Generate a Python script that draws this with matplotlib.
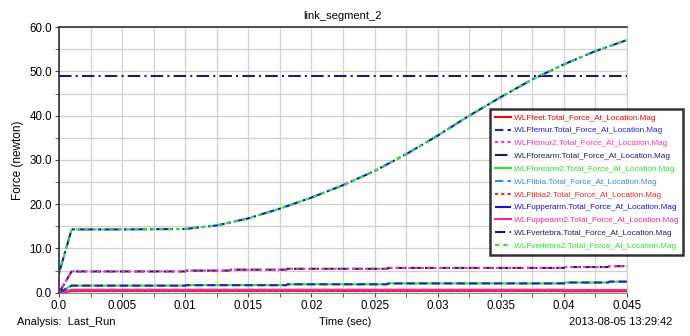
import numpy as np
import matplotlib
matplotlib.use("Agg")
from matplotlib import pyplot as plt

plt.rcParams['font.family'] = ['Liberation Sans', 'DejaVu Sans']

# time samples (sec)
t_big = [0.0, 0.001, 0.005, 0.01, 0.0125, 0.015, 0.0175, 0.02, 0.0225, 0.025,
         0.0275, 0.03, 0.0325, 0.035, 0.0375, 0.04, 0.0425, 0.045]
upperarm = [4.4, 14.3, 14.3, 14.4, 15.2, 16.8, 19.0, 21.5, 24.3, 27.5,
            31.3, 35.5, 40.0, 44.2, 48.2, 51.6, 54.6, 57.1]

t_steps = [0.0, 0.001, 0.01, 0.0101, 0.0135, 0.0136, 0.018, 0.0181, 0.026, 0.0261,
           0.04, 0.0401, 0.0435, 0.0436, 0.045]
vertebra = [0.0, 4.8, 4.8, 5.0, 5.0, 5.2, 5.2, 5.4, 5.4, 5.6, 5.6, 5.8, 5.8, 6.0, 6.0]
forearm2 = [0.0, 1.6, 1.6, 1.7, 1.7, 1.7, 1.7, 1.9, 1.9, 2.1, 2.1, 2.3, 2.3, 2.5, 2.5]
feet = [0.0, 0.4, 0.4, 0.4, 0.4, 0.4, 0.4, 0.4, 0.4, 0.4, 0.4, 0.35, 0.35, 0.35, 0.35]
tibia = [0.0, 0.65, 0.65, 0.65, 0.65, 0.65, 0.65, 0.65, 0.65, 0.65, 0.65, 0.6, 0.6, 0.6, 0.6]
forearm = [48.9] * len(t_steps)

names = ['.WLFfeet.Total_Force_At_Location.Mag',
         '.WLFfemur.Total_Force_At_Location.Mag',
         '.WLFfemur2.Total_Force_At_Location.Mag',
         '.WLFforearm.Total_Force_At_Location.Mag',
         '.WLFforearm2.Total_Force_At_Location.Mag',
         '.WLFtibia.Total_Force_At_Location.Mag',
         '.WLFtibia2.Total_Force_At_Location.Mag',
         '.WLFupperarm.Total_Force_At_Location.Mag',
         '.WLFuppearm2.Total_Force_At_Location.Mag',
         '.WLFvertebra.Total_Force_At_Location.Mag',
         '.WLFvertebra2.Total_Force_At_Location.Mag']
colors = ['#ff0000', '#1f1fe0', '#ff33bb', '#1c1c6e', '#22ee22', '#3a8fc8',
          '#ff2020', '#1010ee', '#ff2299', '#1c1c6e', '#22ee22']
styles = ['-', (0, (4, 2)), (0, (1.5, 1.5)), (0, (6, 2, 1, 2)), '-', (0, (4, 2)),
          (0, (1.5, 1.5)), (0, (8, 1.5, 1.5, 1.5)), '-', (0, (5, 2)), (0, (2, 2))]
xs = [t_steps, t_steps, t_steps, t_steps, t_steps, t_steps, t_steps, t_big, t_steps, t_steps, t_big]
ys = [feet, forearm2, vertebra, forearm, forearm2, tibia, feet, upperarm, tibia, vertebra, upperarm]

fig = plt.figure(figsize=(6.9, 3.36), dpi=100)
ax = fig.add_axes([59 / 690, 1 - 292.7 / 336, (627 - 59) / 690, (292.7 - 27.2) / 336])

order = [0, 6, 5, 8, 4, 1, 9, 2, 3, 7, 10]
lines = [None] * len(names)
for i in order:
    ln, = ax.plot(xs[i], ys[i], color=colors[i], linestyle=styles[i], lw=1.5, label=names[i])
    lines[i] = ln

ax.set_xlim(0, 0.045)
ax.set_ylim(0, 60)
ax.set_xticks(np.arange(0, 0.0451, 0.005))
ax.set_xticklabels(['0.0', '0.005', '0.01', '0.015', '0.02', '0.025', '0.03', '0.035', '0.04', '0.045'])
ax.set_xticks(np.arange(0, 0.0451, 0.0025), minor=True)
ax.set_yticks(np.arange(0, 61, 10))
ax.set_yticklabels(['%.1f' % v for v in np.arange(0, 61, 10)])
ax.set_yticks(np.arange(0, 61, 5), minor=True)
ax.grid(True, which='both', color='#d0d0d0', lw=0.9)
ax.set_axisbelow(True)
ax.tick_params(which='both', direction='out', length=3, labelsize=8.3, color='#444444', pad=2)
for s in ['left', 'top']:
    ax.spines[s].set_color('#333333')
    ax.spines[s].set_linewidth(1.2)
ax.spines['bottom'].set_color('#888888')
ax.spines['right'].set_color('#cccccc')

ax.set_title('link_segment_2', fontsize=8, pad=6)
ax.set_ylabel('Force (newton)', fontsize=8.5, labelpad=4)

leg = ax.legend(handles=lines, loc='upper left', bbox_to_anchor=(490 / 690, 1 - 109 / 336),
                bbox_transform=fig.transFigure, fontsize=5.9, frameon=True, fancybox=False,
                handlelength=2.0, handletextpad=0.1, labelspacing=0.62, borderpad=0.6,
                borderaxespad=0)
leg.get_frame().set_edgecolor('black')
leg.get_frame().set_linewidth(1.8)
for txt, c in zip(leg.get_texts(), colors):
    txt.set_color(c)

fig.text(17 / 690, 1 - 322 / 336, 'Analysis:  Last_Run', fontsize=8, va='center')
fig.text(345 / 690, 1 - 322 / 336, 'Time (sec)', fontsize=8, va='center', ha='center')
fig.text(672 / 690, 1 - 322 / 336, '2013-08-05 13:29:42', fontsize=8, va='center', ha='right')

fig.savefig('out.png', dpi=100)
